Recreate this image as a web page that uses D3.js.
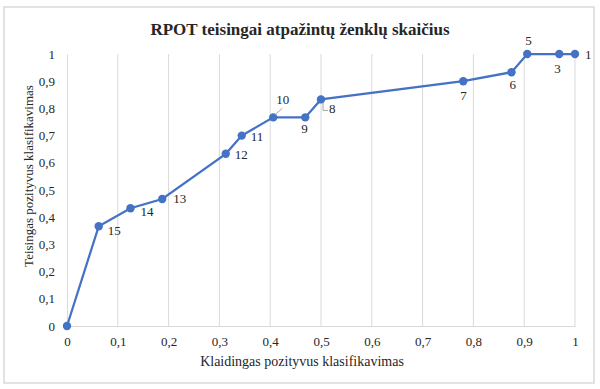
<!DOCTYPE html>
<html>
<head>
<meta charset="utf-8">
<script src="https://cdn.jsdelivr.net/npm/d3@7"></script>
<style>
  body { margin: 0; background: #fff; }
</style>
</head>
<body>
<div id="chart"></div>
<script>
// ROC taškai: klaidingas pozityvus (x), teisingas pozityvus (y), žymė
const fpr = [0, 0.0625, 0.125, 0.1875, 0.3125, 0.344, 0.406, 0.469, 0.5, 0.78, 0.875, 0.906, 0.969, 1];
const tpr = [0, 0.367, 0.433, 0.467, 0.633, 0.70, 0.767, 0.767, 0.833, 0.90, 0.933, 1, 1, 1];
const pointLabels = ['', '15', '14', '13', '12', '11', '10', '9', '8', '7', '6', '5', '3', '1'];
const xTicks = [0, 0.1, 0.2, 0.3, 0.4, 0.5, 0.6, 0.7, 0.8, 0.9, 1];
const yTicks = [0, 0.1, 0.2, 0.3, 0.4, 0.5, 0.6, 0.7, 0.8, 0.9, 1];

// label offsets relative to the point
const labelPos = {
  '15': [9, 9], '14': [10, 8], '13': [11, 4], '12': [9, 5], '11': [9, 5],
  '10': [3, -13], '9': [-4, 16], '8': [8, 14], '7': [-3, 19], '6': [-2, 17],
  '5': [-2, -9], '3': [-5, 19], '1': [10, 5]
};

const width = 600, height = 389;
const margin = {top: 54, right: 24, bottom: 63, left: 67};
const fontFamily = "'Liberation Serif', 'Times New Roman', serif";

const svg = d3.select('#chart').append('svg')
    .attr('width', width)
    .attr('height', height)
    .style('font-family', fontFamily);

svg.append('rect')
    .attr('x', 4).attr('y', 7)
    .attr('width', 590).attr('height', 376)
    .attr('fill', '#fff')
    .attr('stroke', '#d9d9d9')
    .attr('stroke-width', 1.5);

const x = d3.scaleLinear().domain([0, 1]).range([margin.left, width - margin.right - 1]);
const y = d3.scaleLinear().domain([0, 1]).range([height - margin.bottom, margin.top]);

const fmt = d => d === 0 || d === 1 ? String(d) : d3.format('.1f')(d).replace('.', ',');

// vertical gridlines
svg.append('g')
    .selectAll('line')
    .data(xTicks.slice(1))
    .join('line')
    .attr('x1', d => x(d)).attr('x2', d => x(d))
    .attr('y1', y(1)).attr('y2', y(0))
    .attr('stroke', '#d9d9d9')
    .attr('stroke-width', 1);

// axes
const xAxis = svg.append('g')
    .attr('transform', 'translate(0,' + y(0) + ')')
    .call(d3.axisBottom(x).tickValues(xTicks).tickFormat(fmt).tickSize(0).tickPadding(11));
xAxis.attr('font-family', null).attr('font-size', 13);
xAxis.select('.domain').attr('stroke', '#d9d9d9');
xAxis.selectAll('text').attr('fill', '#262626');

const yAxis = svg.append('g')
    .attr('transform', 'translate(' + x(0) + ',0)')
    .call(d3.axisLeft(y).tickValues(yTicks).tickFormat(fmt).tickSize(0).tickPadding(12));
yAxis.attr('font-family', null).attr('font-size', 13);
yAxis.select('.domain').attr('stroke', '#d9d9d9');
yAxis.selectAll('text').attr('fill', '#262626');

// title and axis titles
svg.append('text')
    .attr('x', 300).attr('y', 35)
    .attr('text-anchor', 'middle')
    .attr('fill', '#262626')
    .style('font-size', '17px')
    .style('font-weight', 'bold')
    .text('RPOT teisingai atpažintų ženklų skaičius');

svg.append('text')
    .attr('x', 302).attr('y', 366)
    .attr('text-anchor', 'middle')
    .attr('fill', '#262626')
    .style('font-size', '14px')
    .text('Klaidingas pozityvus klasifikavimas');

svg.append('text')
    .attr('transform', 'translate(33,176) rotate(-90)')
    .attr('text-anchor', 'middle')
    .attr('fill', '#262626')
    .style('font-size', '13px')
    .text('Teisingas pozityvus klasifikavimas');

const points = fpr.map((d, i) => ({x: d, y: tpr[i], label: pointLabels[i]}));

svg.append('path')
    .datum(points)
    .attr('fill', 'none')
    .attr('stroke', '#4472c4')
    .attr('stroke-width', 2.25)
    .attr('d', d3.line().x(d => x(d.x)).y(d => y(d.y)));

svg.append('g')
    .selectAll('circle')
    .data(points)
    .join('circle')
    .attr('cx', d => x(d.x))
    .attr('cy', d => y(d.y))
    .attr('r', 4.2)
    .attr('fill', '#4472c4');

// leader lines for 10 and 8
const p10 = points[6], p8 = points[8];
svg.append('path')
    .attr('d', 'M' + (x(p10.x) + 2) + ',' + (y(p10.y) - 3) + 'l7,-6')
    .attr('stroke', '#a6a6a6').attr('fill', 'none');
svg.append('path')
    .attr('d', 'M' + (x(p8.x) + 2) + ',' + (y(p8.y) + 3) + 'v8h5')
    .attr('stroke', '#a6a6a6').attr('fill', 'none');

svg.append('g')
    .selectAll('text')
    .data(points.filter(d => d.label))
    .join('text')
    .attr('x', d => x(d.x) + labelPos[d.label][0])
    .attr('y', d => y(d.y) + labelPos[d.label][1])
    .attr('fill', '#262626')
    .style('font-size', '13px')
    .text(d => d.label);
</script>
</body>
</html>
